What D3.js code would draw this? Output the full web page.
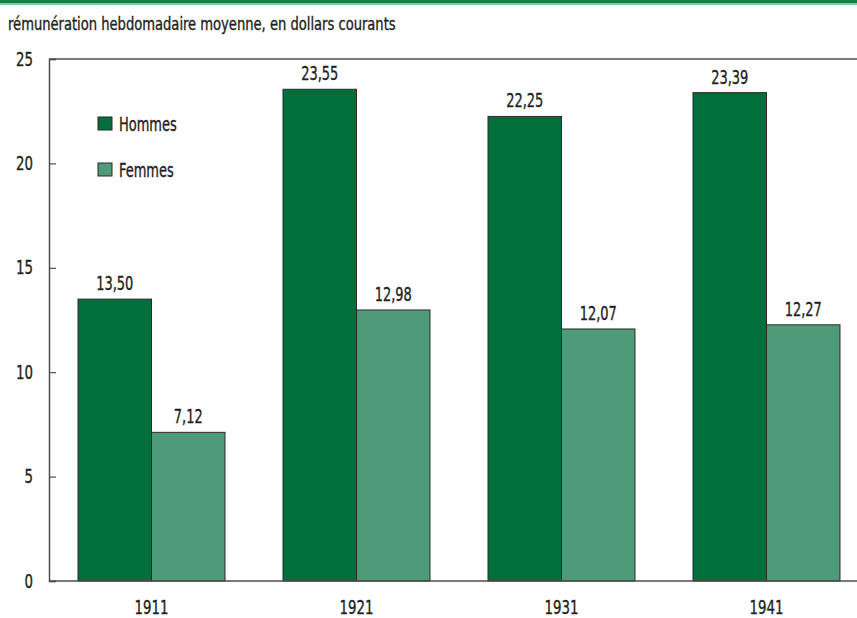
<!DOCTYPE html>
<html>
<head>
<meta charset="utf-8">
<script src="https://cdn.jsdelivr.net/npm/d3@7/dist/d3.min.js"></script>
<style>
  html, body { margin: 0; padding: 0; background: #fff; }
  svg { display: block; }
  text { font-family: "DejaVu Sans Condensed", "Liberation Sans", sans-serif; fill: #231f20; stroke: #231f20; stroke-width: 0.35px; }
</style>
</head>
<body>
<svg id="chart" width="857" height="618"></svg>
<script>
// Average weekly earnings, current dollars
const years = ["1911", "1921", "1931", "1941"];
const hommes = [13.50, 23.55, 22.25, 23.39];
const femmes = [7.12, 12.98, 12.07, 12.27];
const seriesNames = ["Hommes", "Femmes"];
const yTicks = [0, 5, 10, 15, 20, 25];
const title = "rémunération hebdomadaire moyenne, en dollars courants";

const colors = { Hommes: "#006f3b", Femmes: "#4f9a78" };
const fmt = v => v.toFixed(2).replace(".", ",");

const svg = d3.select("#chart");
const W = 857, H = 618;
const plotLeft = 49, plotTop = 59, plotBottom = 581, plotRight = 869;

// narrow the lettering horizontally around its anchor point
function condense(sel, sx) {
  sel.each(function () {
    const t = d3.select(this);
    const tx = +t.attr("x") || 0, ty = +t.attr("y") || 0;
    t.attr("x", 0).attr("y", 0)
     .attr("transform", `translate(${tx},${ty}) scale(${sx},1)`);
  });
}

// header stripe
svg.append("rect").attr("x", 0).attr("y", 0).attr("width", W).attr("height", 3).attr("fill", "#177a47");
svg.append("rect").attr("x", 0).attr("y", 3).attr("width", W).attr("height", 2).attr("fill", "#86c4a4");

svg.append("text").attr("x", 8).attr("y", 30)
  .attr("font-size", 18).text(title).call(condense, 0.81);

const x = d3.scaleBand().domain(years).range([plotLeft, plotRight]).paddingInner(0.283).paddingOuter(0.1415);
const xs = d3.scaleBand().domain(seriesNames).range([0, x.bandwidth()]);
const y = d3.scaleLinear().domain([0, 25]).range([plotBottom, plotTop]);

const data = years.map((yr, i) => ({ year: yr, values: [
  { name: "Hommes", v: hommes[i] }, { name: "Femmes", v: femmes[i] } ] }));

// top frame line
svg.append("line").attr("x1", plotLeft).attr("x2", W).attr("y1", y(25)).attr("y2", y(25))
  .attr("stroke", "#4d4d4d").attr("stroke-width", 1.5);

// bars
const g = svg.append("g");
const groups = g.selectAll("g.grp").data(data).join("g")
  .attr("transform", d => `translate(${x(d.year)},0)`);
groups.selectAll("rect").data(d => d.values).join("rect")
  .attr("x", d => xs(d.name))
  .attr("y", d => y(d.v))
  .attr("width", xs.bandwidth())
  .attr("height", d => y(0) - y(d.v))
  .attr("fill", d => colors[d.name])
  .attr("stroke", "#2b2b2b").attr("stroke-width", 1);
groups.selectAll("text.val").data(d => d.values).join("text")
  .attr("class", "val")
  .attr("x", d => xs(d.name) + xs.bandwidth() / 2)
  .attr("y", d => y(d.v) - 9)
  .attr("text-anchor", "middle")
  .attr("font-size", 19)
  .text(d => fmt(d.v))
  .call(condense, 0.76);

// y axis
const yAxis = d3.axisRight(y).tickValues(yTicks).tickSize(7).tickFormat(d3.format("d"));
const ya = svg.append("g").attr("transform", `translate(${plotLeft},0)`).call(yAxis);
ya.select(".domain").attr("stroke", "#4d4d4d").attr("stroke-width", 1.5);
ya.selectAll(".tick line").attr("stroke", "#4d4d4d").attr("stroke-width", 1.2);
ya.selectAll(".tick text").attr("x", -16).attr("y", 0).attr("text-anchor", "end")
  .attr("font-size", 19).attr("font-family", null).attr("fill", "#231f20")
  .call(condense, 0.78);

// x axis
const xAxis = d3.axisBottom(x).tickSize(0).tickPadding(19);
const xa = svg.append("g").attr("transform", `translate(0,${plotBottom})`).call(xAxis);
xa.select(".domain").remove();
svg.append("line").attr("x1", plotLeft).attr("x2", W).attr("y1", plotBottom).attr("y2", plotBottom)
  .attr("stroke", "#4d4d4d").attr("stroke-width", 1.5);
xa.selectAll(".tick text").attr("font-size", 19).attr("font-family", null).attr("fill", "#231f20")
  .call(condense, 0.78);

// legend
const leg = svg.append("g").selectAll("g").data(seriesNames).join("g")
  .attr("transform", (d, i) => `translate(98,${117 + i * 46})`);
leg.append("rect").attr("width", 14).attr("height", 13)
  .attr("fill", d => colors[d]).attr("stroke", "#2b2b2b").attr("stroke-width", 1);
leg.append("text").attr("x", 21).attr("y", 14).attr("font-size", 19).text(d => d)
  .call(condense, 0.76);
</script>
</body>
</html>
